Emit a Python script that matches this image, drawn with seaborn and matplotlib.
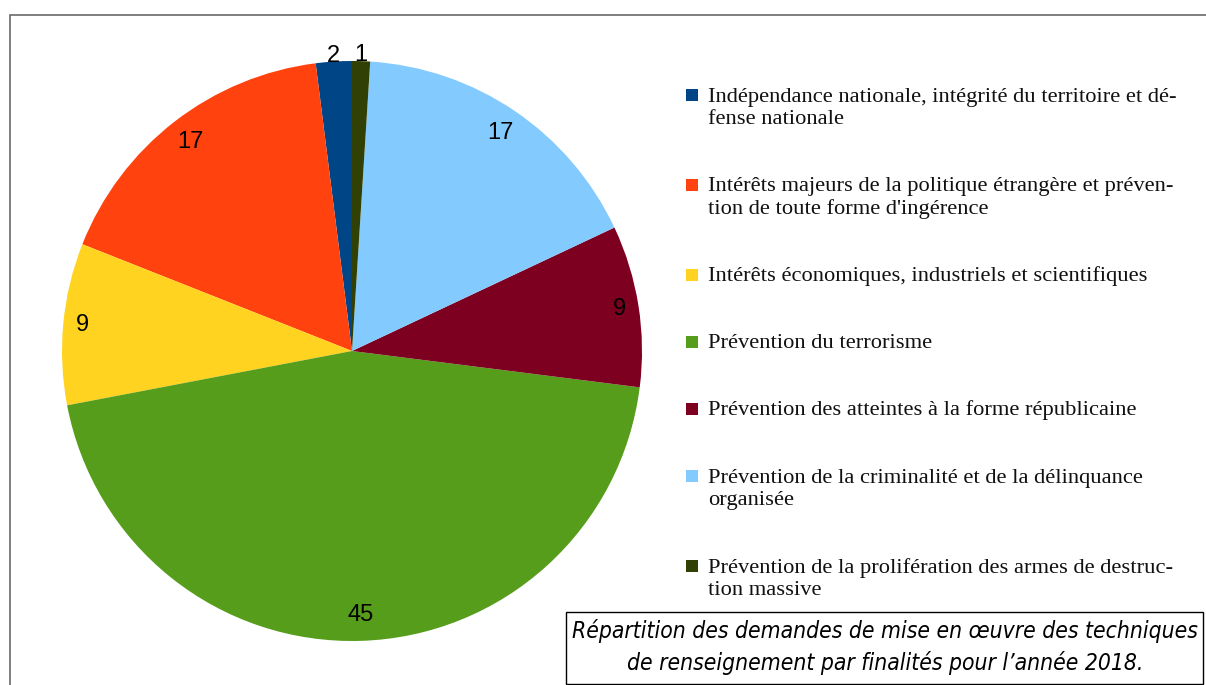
import numpy as np
import seaborn as sns
import matplotlib.pyplot as plt
from matplotlib import font_manager
from matplotlib.font_manager import FontProperties
from matplotlib.patches import Rectangle

# data
finalites = [
    "Indépendance nationale, intégrité du territoire et dé-\nfense nationale",
    "Intérêts majeurs de la politique étrangère et préven-\ntion de toute forme d'ingérence",
    "Intérêts économiques, industriels et scientifiques",
    "Prévention du terrorisme",
    "Prévention des atteintes à la forme républicaine",
    "Prévention de la criminalité et de la délinquance\norganisée",
    "Prévention de la prolifération des armes de destruc-\ntion massive",
]
valeurs = [2, 17, 9, 45, 9, 17, 1]
couleurs = ["#004586", "#ff420e", "#ffd320", "#579d1c", "#7e0021", "#83caff", "#314004"]
titre = "Répartition des demandes de mise en œuvre des techniques\nde renseignement par finalités pour l\u2019année 2018."

sns.set_theme(style="white")
plt.rcParams['font.family'] = ['Liberation Sans', 'DejaVu Sans']

W, H = 1206, 685
fig = plt.figure(figsize=(W / 100, H / 100), dpi=100)

def px(x, y):
    return x / W, 1 - y / H

# outer frame
fig.patches.append(Rectangle(px(10, 700), 1.0, (700 - 15) / H, transform=fig.transFigure,
                             fill=False, edgecolor="#6a6a6a", linewidth=1.2))

# pie
cx, cy, R = 352, 351, 290
ax = fig.add_axes([(cx - R) / W, (H - cy - R) / H, 2 * R / W, 2 * R / H])
pal = sns.color_palette(couleurs)
wedges, _ = ax.pie(valeurs, colors=pal, startangle=90, counterclock=True,
                   wedgeprops=dict(linewidth=0))
ax.set_xlim(-1, 1)
ax.set_ylim(-1, 1)
ax.set_aspect("equal")
ax.axis("off")

for w, v in zip(wedges, valeurs):
    mid = np.deg2rad((w.theta1 + w.theta2) / 2)
    r = 1.02 if v < 5 else 0.96 - 0.025 * len(str(v))
    ax.text(r * np.cos(mid), r * np.sin(mid), str(v), ha="center", va="center",
            fontsize=17, color="black", clip_on=False)

# legend, drawn by hand so the square sits on the first line
serif = ['Liberation Serif', 'DejaVu Serif']
y = 101  # baseline of the first line
line_h = 23
for lab, c in zip(finalites, couleurs):
    n = lab.count("\n") + 1
    fig.patches.append(Rectangle(px(686, y), 12 / W, 12 / H, transform=fig.transFigure,
                                 facecolor=c, edgecolor="none"))
    # va="baseline" anchors the last line, so push it down for wrapped labels
    fig.text(*px(708, y + line_h * (n - 1)), lab, ha="left", va="baseline",
             fontsize=16.2, family=serif, linespacing=1.23, color="#111111")
    y += 67 + line_h * (n - 1)

# caption box - look for a narrow italic face, otherwise plain italic
cands = [f for f in font_manager.fontManager.ttflist
         if f.style in ("italic", "oblique")
         and ("Narrow" in f.name or "Condensed" in f.name
              or f.stretch in ("condensed", "semi-condensed"))]
if cands:
    cands.sort(key=lambda f: (0 if "Liberation" in f.name else 1, f.weight != 400 and f.weight != "normal"))
    fp = FontProperties(fname=cands[0].fname)
else:
    fp = FontProperties(family="Liberation Sans", style="italic")

fig.patches.append(Rectangle(px(566, 684), (1203 - 566) / W, (684 - 612) / H,
                             transform=fig.transFigure, fill=False,
                             edgecolor="black", linewidth=1.0))
cap = fig.text(*px(885, 647), titre, ha="center", va="center",
               fontproperties=fp, linespacing=1.3, color="black")
cap.set_fontsize(16)
# scale so the first line is about as wide as in the original
probe = fig.text(0, 0, titre.split("\n")[0], fontproperties=fp.copy())
probe.set_fontsize(16)
fig.canvas.draw()
wpx = probe.get_window_extent().width
probe.remove()
size = 16 * 628 / wpx
cap.set_fontsize(size)
cap.set_linespacing(30 / (size * 100 / 72) / 0.9)

fig.savefig("out.png", dpi=100)
